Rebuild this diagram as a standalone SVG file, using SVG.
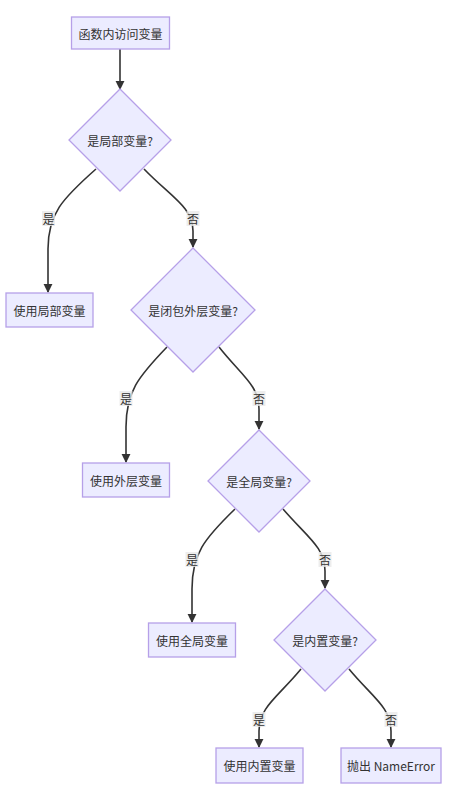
<svg xmlns="http://www.w3.org/2000/svg" width="466" height="800" viewBox="0 0 466 800">
<style>
.node rect,.node polygon{fill:#ECECFF;stroke:#B6A0E8;stroke-width:1.3}
text{font-family:"Noto Sans CJK SC","Liberation Sans",sans-serif;font-size:12px;fill:#333;text-anchor:middle;dominant-baseline:central}
.edge{fill:none;stroke:#333;stroke-width:1.6;marker-end:url(#arrow)}
.lbl rect{fill:rgba(232,232,232,0.8)}
</style>
<defs>
<marker id="arrow" viewBox="0 0 10 10" refX="9" refY="5" markerUnits="userSpaceOnUse" markerWidth="9" markerHeight="10" orient="auto">
<path d="M0,0 L10,5 L0,10 z" fill="#333"/>
</marker>
</defs>
<rect width="466" height="800" fill="#fff"/>
<g id="connectors">
<path class="edge" d="M120,49 L120,89"/>
<path class="edge" d="M96,169 C62,199 48,214 48,249 L48,292"/>
<path class="edge" d="M144,169 C171,197 193,207 193,231 L193,247"/>
<path class="edge" d="M167,347 C138,377 126,392 126,427 L126,462"/>
<path class="edge" d="M219,347 C241,375 259,385 259,409 L259,429"/>
<path class="edge" d="M235,509 C204,539 192,554 192,589 L192,622"/>
<path class="edge" d="M283,509 C307,537 325,547 325,571 L325,588"/>
<path class="edge" d="M301,669 C278,697 259,707 259,731 L259,747"/>
<path class="edge" d="M349,669 C372,697 391,707 391,731 L391,747"/>
</g>
<g id="edge-labels">
<g class="lbl"><rect x="42" y="211" width="13" height="15"/><text x="48.5" y="218">是</text></g>
<g class="lbl"><rect x="186.5" y="211" width="13" height="15"/><text x="193" y="218">否</text></g>
<g class="lbl"><rect x="119.5" y="391" width="13" height="15"/><text x="126" y="398">是</text></g>
<g class="lbl"><rect x="252.5" y="391" width="13" height="15"/><text x="259" y="398">否</text></g>
<g class="lbl"><rect x="185.5" y="552" width="13" height="15"/><text x="192" y="559">是</text></g>
<g class="lbl"><rect x="318.5" y="552" width="13" height="15"/><text x="325" y="559">否</text></g>
<g class="lbl"><rect x="252.5" y="712" width="13" height="15"/><text x="259" y="719">是</text></g>
<g class="lbl"><rect x="384.5" y="712" width="13" height="15"/><text x="391" y="719">否</text></g>
</g>
<g id="start" class="node"><rect x="71.5" y="17" width="98" height="32"/><text x="120.5" y="33">函数内访问变量</text></g>
<g id="q1" class="node"><polygon points="120,89 171,140 120,191 69,140"/><text x="120" y="140">是局部变量?</text></g>
<g id="local" class="node"><rect x="6" y="293" width="87" height="34"/><text x="49.5" y="310">使用局部变量</text></g>
<g id="q2" class="node"><polygon points="193,248 255,310 193,372 131,310"/><text x="193" y="310">是闭包外层变量?</text></g>
<g id="enclosing" class="node"><rect x="82.5" y="463" width="87" height="34"/><text x="126" y="480">使用外层变量</text></g>
<g id="q3" class="node"><polygon points="259,430 310,481 259,532 208,481"/><text x="259" y="481">是全局变量?</text></g>
<g id="global" class="node"><rect x="148.5" y="623" width="87" height="34"/><text x="192" y="640">使用全局变量</text></g>
<g id="q4" class="node"><polygon points="325,589 376,640 325,691 274,640"/><text x="325" y="640">是内置变量?</text></g>
<g id="builtin" class="node"><rect x="216" y="748" width="87" height="35"/><text x="259.5" y="765.5">使用内置变量</text></g>
<g id="error" class="node"><rect x="341" y="748" width="100" height="35"/><text x="391" y="765.5">抛出 NameError</text></g>
</svg>
